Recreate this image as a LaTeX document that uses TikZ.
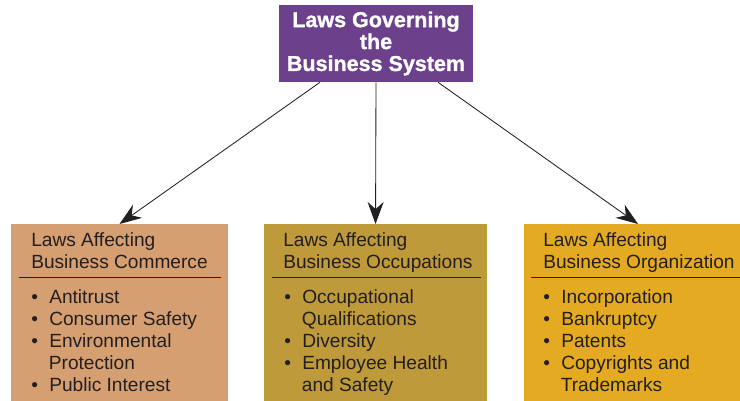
\documentclass[tikz,border=0pt]{standalone}
\usepackage{fontspec}
\setmainfont{Liberation Sans}
\newfontfamily\govfont[BoldFeatures={FakeBold=1.2}]{Liberation Sans}
\usetikzlibrary{arrows.meta, positioning}
\definecolor{govpurple}{RGB}{108,64,139}
\definecolor{commercetan}{RGB}{213,159,113}
\definecolor{occupgold}{RGB}{190,154,58}
\definecolor{orgamber}{RGB}{228,170,34}
\definecolor{textdark}{RGB}{35,31,32}

\newcommand{\lawbullet}{\makebox[0.45cm][l]{\textbullet}}
\newcommand{\lawindent}{\hspace*{0.44cm}}

\begin{document}
\begin{tikzpicture}[x=0.025cm, y=-0.025cm,
    govbox/.style={fill=govpurple, text=white, align=center, inner sep=0pt,
        minimum width=4.85cm, minimum height=1.925cm,
        font=\govfont\fontsize{15.3}{15.6}\selectfont\bfseries},
    lawbox/.style={anchor=north west, minimum height=4.45cm, inner sep=0pt, outer sep=0pt},
    lawtext/.style={anchor=base west, align=left, inner sep=0pt, text=textdark,
        font=\fontsize{13.6}{15.6}\selectfont},
    seprule/.style={draw=textdark, line width=0.7pt},
    govarrow/.style={draw=textdark, line width=0.6pt, -{Stealth[length=0.55cm, width=0.4cm]}}]
\useasboundingbox (0,0) rectangle (740,400);

% top box
\node[govbox] (laws) at (376,43.5) {Laws Governing\\the\\Business System};

% the three groups of laws
\node[lawbox, fill=commercetan, minimum width=5.425cm] (commerce) at (11,224) {};
\node[lawbox, fill=occupgold, minimum width=5.575cm] (occup) at (264,224) {};
\node[lawbox, fill=orgamber, minimum width=5.7cm] (org) at (524,224) {};

% commerce (base anchor = last line)
\node[lawtext] (commercehead) at (31,268) {Laws Affecting\\Business Commerce};
\draw[seprule] (19,277) -- (221,277);
\node[lawtext] (commercelist) at (31,391) {\lawbullet Antitrust\\
    \lawbullet Consumer Safety\\
    \lawbullet Environmental\\
    \lawindent Protection\\
    \lawbullet Public Interest};

% occupations
\node[lawtext] (occuphead) at (283,268) {Laws Affecting\\Business Occupations};
\draw[seprule] (272,277) -- (481,277);
\node[lawtext] (occuplist) at (284,391) {\lawbullet Occupational\\
    \lawindent Qualifications\\
    \lawbullet Diversity\\
    \lawbullet Employee Health\\
    \lawindent and Safety};

% organization
\node[lawtext] (orghead) at (543,268) {Laws Affecting\\Business Organization};
\draw[seprule] (531,277) -- (740,277);
\node[lawtext] (orglist) at (543,391) {\lawbullet Incorporation\\
    \lawbullet Bankruptcy\\
    \lawbullet Patents\\
    \lawbullet Copyrights and\\
    \lawindent Trademarks};

% arrows
\draw[govarrow] ([xshift=-1.4cm]laws.south) -- (commerce.north);
\draw[govarrow] (laws.south) -- (occup.north);
\draw[govarrow] ([xshift=1.55cm]laws.south) -- (org.north);
\end{tikzpicture}
\end{document}
